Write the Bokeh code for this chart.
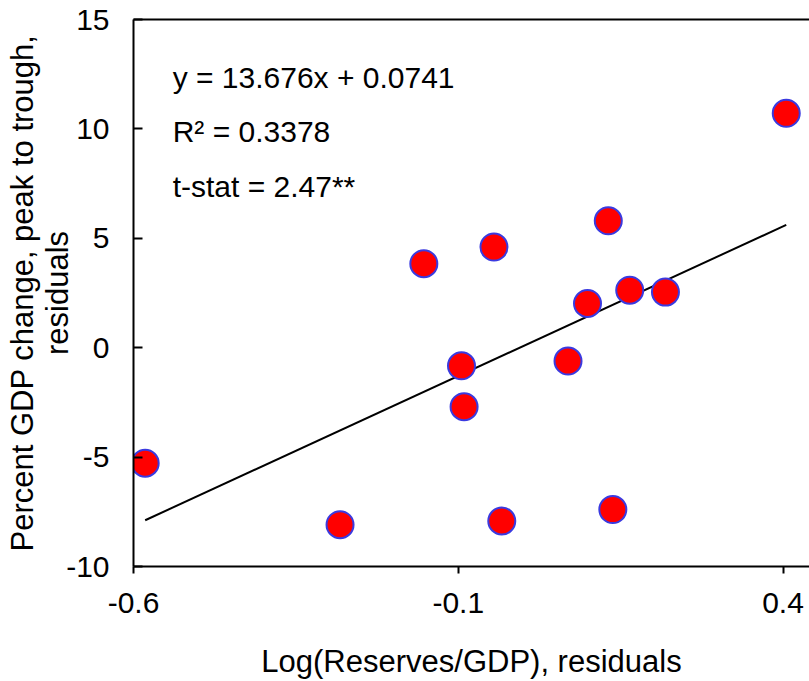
import math
from bokeh.plotting import figure
from bokeh.models import Range1d, FixedTicker, LinearAxis, Label, ColumnDataSource
from bokeh.embed import file_html
from bokeh.resources import INLINE

# ---- data ----
reserves_resid = [-0.582, -0.282, -0.153, -0.095, -0.091, -0.045, -0.033,
                  0.069, 0.099, 0.131, 0.138, 0.164, 0.219, 0.405]
gdp_change_resid = [-5.28, -8.09, 3.84, -0.83, -2.70, 4.60, -7.92,
                    -0.61, 2.02, 5.80, -7.40, 2.63, 2.54, 10.71]
slope = 13.676
intercept = 0.0741
r_squared = 0.3378
t_stat_text = "2.47**"
x_ticks = [-0.6, -0.1, 0.4]
x_tick_labels = ["-0.6", "-0.1", "0.4"]
y_ticks = [-10, -5, 0, 5, 10, 15]
y_tick_labels = ["-10", "-5", "0", "5", "10", "15"]

FONT = "Liberation Sans"

p = figure(width=809, height=681, output_backend="svg", toolbar_location=None,
           x_range=Range1d(-0.6, 0.4408), y_range=Range1d(-10, 15),
           min_border_left=133, min_border_right=0, min_border_top=19,
           min_border_bottom=113)
p.outline_line_color = None
p.xgrid.visible = False
p.ygrid.visible = False
p.background_fill_color = "white"
p.border_fill_color = "white"

# axes
xa = p.xaxis[0]
xa.ticker = FixedTicker(ticks=x_ticks)
xa.major_label_overrides = dict(zip(x_ticks, x_tick_labels))
xa.minor_tick_line_color = None
xa.major_tick_in = 0
xa.major_tick_out = 7
xa.major_tick_line_width = 2
xa.axis_line_width = 2
xa.major_label_text_font = FONT
xa.major_label_text_font_size = "30px"
xa.major_label_text_color = "black"
xa.major_label_standoff = 19
xa.axis_label = "Log(Reserves/GDP), residuals"
xa.axis_label_text_font = FONT
xa.axis_label_text_font_size = "31px"
xa.axis_label_text_font_style = "normal"
xa.axis_label_text_color = "black"
xa.axis_label_standoff = 28

ya = p.yaxis[0]
ya.ticker = FixedTicker(ticks=y_ticks)
ya.major_label_overrides = dict(zip(y_ticks, y_tick_labels))
ya.minor_tick_line_color = None
ya.major_tick_in = 9
ya.major_tick_out = 0
ya.major_tick_line_width = 2
ya.axis_line_width = 2
ya.major_label_text_font = FONT
ya.major_label_text_font_size = "30px"
ya.major_label_text_color = "black"
ya.major_label_standoff = 24
ya.axis_label = "Percent GDP change, peak to trough,\nresiduals"
ya.axis_label_text_font = FONT
ya.axis_label_text_font_size = "31px"
ya.axis_label_text_font_style = "normal"
ya.axis_label_text_color = "black"
ya.axis_label_text_line_height = 1.0
ya.axis_label_standoff = -12

top_axis = LinearAxis(ticker=FixedTicker(ticks=[]), axis_line_width=2,
                      major_tick_line_color=None, minor_tick_line_color=None)
p.add_layout(top_axis, "above")

# regression line
x_line = [min(reserves_resid), max(reserves_resid)]
y_line = [slope * v + intercept for v in x_line]
p.line(x_line, y_line, line_color="black", line_width=2)

# points
src = ColumnDataSource(dict(x=reserves_resid, y=gdp_change_resid))
p.scatter("x", "y", source=src, size=27, fill_color="#FF0000",
          line_color="#3A3AE0", line_width=2)

# annotation text
texts = [f"y = {slope}x + {intercept}", f"R\u00b2 = {r_squared}", f"t-stat = {t_stat_text}"]
ys = [12.34, 9.9, 7.39]
for t, yy in zip(texts, ys):
    p.add_layout(Label(x=-0.5397, y=yy, text=t, text_font=FONT, text_font_size="30px",
                       text_baseline="middle", text_align="left", text_color="black"))

open("out.html", "w").write(file_html(p, INLINE))
